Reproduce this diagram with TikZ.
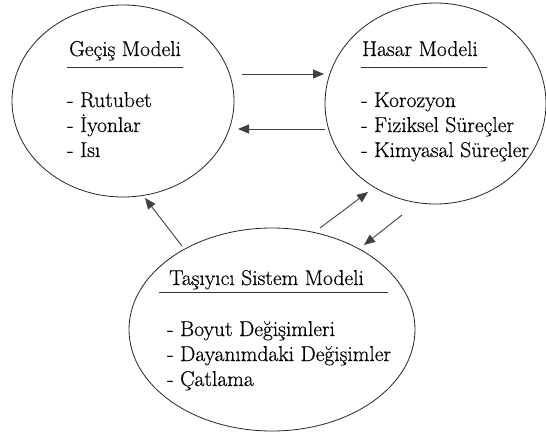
\documentclass[tikz,border=0pt]{standalone}
\usepackage{fontspec}
\newfontfamily\tfont{Latin Modern Roman}[FakeBold=0.5]
\usetikzlibrary{shapes.geometric,arrows.meta}
\begin{document}
\begin{tikzpicture}[x=1pt,y=-1pt,
  oval/.style={draw=black!85,line width=0.8pt,ellipse,inner sep=0pt},
  txt/.style={anchor=base west,inner sep=0pt,font=\tfont\fontsize{21.5}{25}\selectfont},
  uline/.style={draw=black!80,line width=1pt},
  arr/.style={draw=black!75,line width=0.9pt,-{Triangle[length=11pt,width=9pt]}}]
\useasboundingbox[fill=white] (0,0) rectangle (546,432);
% ellipses
\node[oval,minimum width=222,minimum height=192] (gecis) at (123,101) {};
\node[oval,minimum width=221,minimum height=201] (hasar) at (435.5,103.5) {};
\node[oval,minimum width=286,minimum height=203] (tasiyici) at (272,329.5) {};
% left texts
\node[txt] (g0) at (69,56) {Geçiş Modeli};
\draw[uline] (67,67) -- (183,67);
\node[txt] (g1) at (67,107) {- Rutubet};
\node[txt] (g2) at (67,132) {- İyonlar};
\node[txt] (g3) at (67,157) {- Isı};
% right texts
\node[txt] (h0) at (362,56) {Hasar Modeli};
\draw[uline] (361,67) -- (487,67);
\node[txt] (h1) at (361,107) {- Korozyon};
\node[txt] (h2) at (361,132) {- Fiziksel Süreçler};
\node[txt] (h3) at (361,157) {- Kimyasal Süreçler};
% bottom texts
\node[txt] (t0) at (169,285) {Taşıyıcı Sistem Modeli};
\draw[uline] (159,292) -- (388,292);
\node[txt] (t1) at (167,336) {- Boyut Değişimleri};
\node[txt] (t2) at (167,361) {- Dayanımdaki Değişimler};
\node[txt] (t3) at (167,386) {- Çatlama};
% arrow ends
\coordinate (a1s) at (242,74);  \coordinate (a1e) at (324,74);
\coordinate (a2s) at (325,129); \coordinate (a2e) at (238,129);
\coordinate (a3s) at (182,246); \coordinate (a3e) at (145,198);
\coordinate (a4s) at (320,228); \coordinate (a4e) at (368,192);
\coordinate (a5s) at (402,215); \coordinate (a5e) at (364,245);
\draw[arr] (a1s) -- (a1e);
\draw[arr] (a2s) -- (a2e);
\draw[arr] (a3s) -- (a3e);
\draw[arr] (a4s) -- (a4e);
\draw[arr] (a5s) -- (a5e);
\end{tikzpicture}
\end{document}
